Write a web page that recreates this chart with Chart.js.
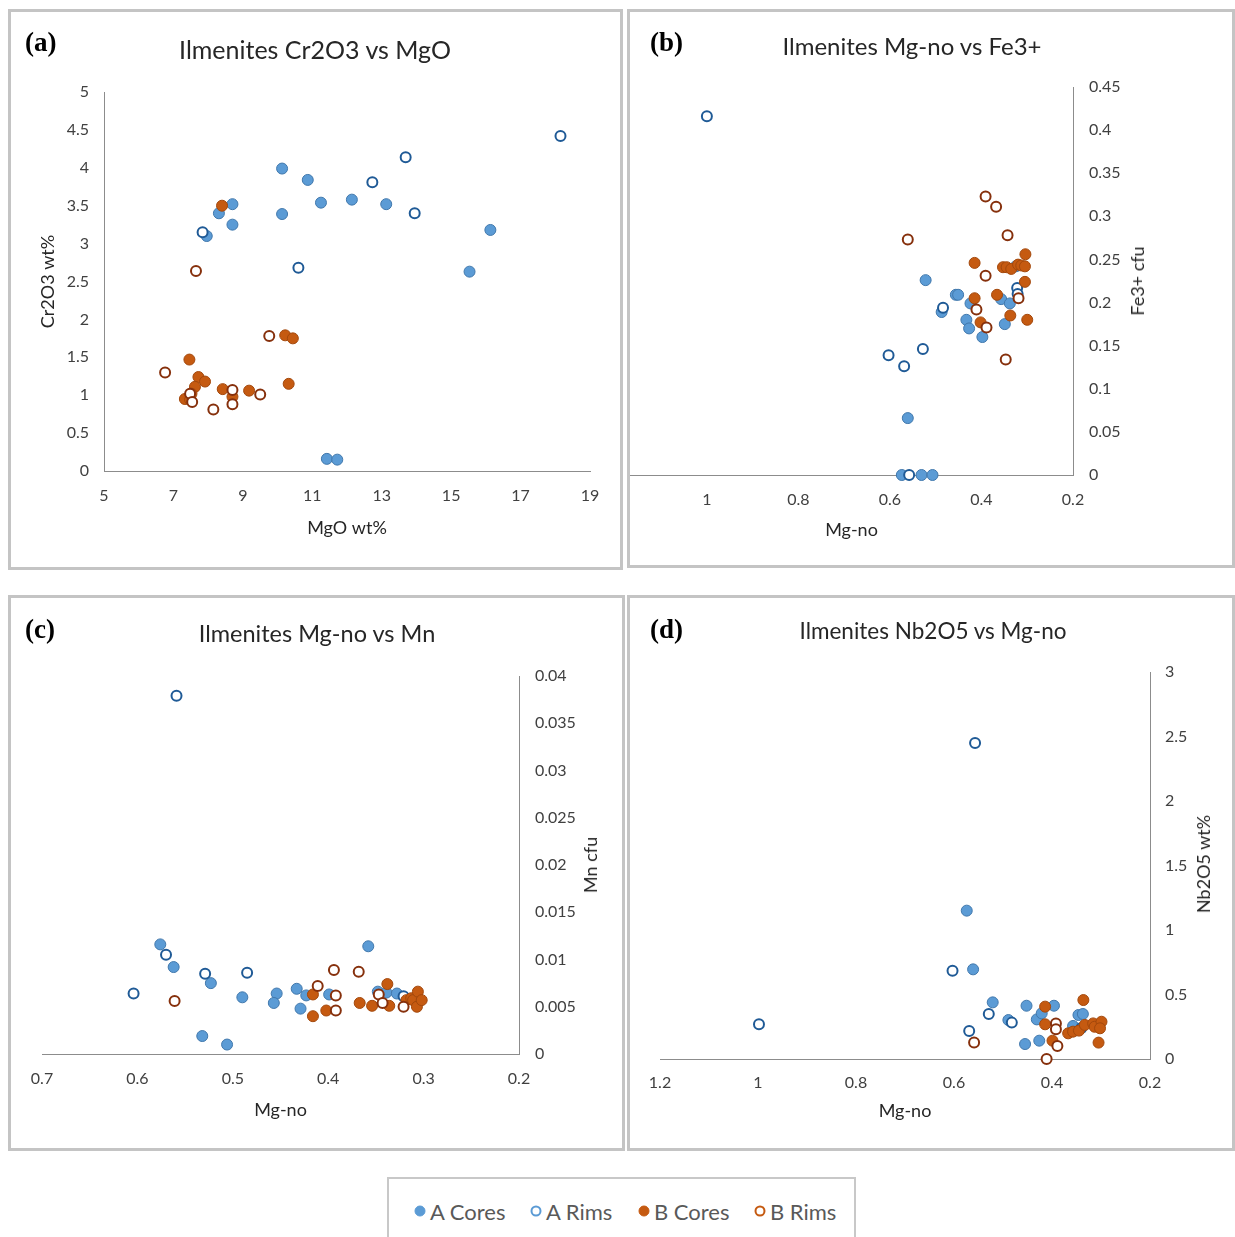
<!DOCTYPE html>
<html>
<head>
<meta charset="utf-8">
<script src="https://cdn.jsdelivr.net/npm/chart.js@4.4.1/dist/chart.umd.min.js"></script>
<style>
  body { margin: 0; background: #fff; }
  #page { position: relative; width: 1235px; height: 1237px; overflow: hidden; font-family: Lato, sans-serif; }
  .box { position: absolute; box-sizing: border-box; border: 3px solid #c4c4c4; }
  .tag { position: absolute; font: bold 27px "Liberation Serif", serif; color: #000; transform: translateY(-50%); }
  .ttl { position: absolute; font-size: 25px; color: #262626; white-space: nowrap; transform: translate(-50%, -50%); }
  .ytl { position: absolute; font-size: 18px; color: #262626; white-space: nowrap; transform: translate(-50%, -50%) rotate(-90deg); }
  canvas { position: absolute; }
  #legend { position: absolute; left: 387px; top: 1177px; width: 469px; height: 80px; box-sizing: border-box; border: 2px solid #c8c8c8; }
  .lg { position: absolute; top: 1211px; transform: translateY(-50%); font-size: 22px; color: #595959; white-space: nowrap; }
  .dot { position: absolute; top: 1211px; width: 11px; height: 11px; border-radius: 50%; box-sizing: border-box; transform: translate(-50%, -50%); }
</style>
</head>
<body>
<div id="page"></div>
<script>
/* ---------- 데이터 ---------- */

const seriesNames = ["A Cores", "A Rims", "B Cores", "B Rims"];

// (a) MgO wt% (x) vs Cr2O3 wt% (y)
const crACores = [[10.13,3.99],[10.87,3.84],[8.70,3.52],[8.31,3.40],[8.70,3.25],[7.96,3.10],[10.13,3.39],[11.25,3.54],[12.14,3.58],[13.13,3.52],[16.13,3.18],[15.53,2.63],[11.42,0.16],[11.72,0.15]];
const crARims = [[18.15,4.42],[13.69,4.14],[12.73,3.81],[13.95,3.40],[7.84,3.15],[10.60,2.68]];
const crBCores = [[8.40,3.50],[7.46,1.47],[7.72,1.24],[7.91,1.18],[7.62,1.11],[7.52,1.02],[7.33,0.95],[7.48,0.94],[8.42,1.08],[8.70,0.98],[9.18,1.06],[10.32,1.15],[10.22,1.79],[10.44,1.75]];
const crBRims = [[7.65,2.64],[6.76,1.30],[9.76,1.78],[8.70,1.07],[8.70,0.88],[8.15,0.81],[9.50,1.01],[7.48,1.02],[7.54,0.91]];

// (b) Mg-no (x) vs Fe3+ cfu (y)
const feACores = [[0.522,0.226],[0.456,0.209],[0.451,0.209],[0.487,0.189],[0.424,0.199],[0.433,0.180],[0.427,0.170],[0.398,0.160],[0.357,0.204],[0.338,0.199],[0.349,0.175],[0.325,0.242],[0.561,0.066],[0.574,0],[0.531,0],[0.507,0]];
const feARims = [[1.0,0.416],[0.603,0.139],[0.569,0.126],[0.528,0.146],[0.484,0.194],[0.558,0],[0.322,0.217],[0.321,0.210]];
const feBCores = [[0.415,0.246],[0.415,0.205],[0.402,0.177],[0.366,0.209],[0.353,0.241],[0.345,0.241],[0.335,0.239],[0.320,0.244],[0.313,0.243],[0.305,0.242],[0.304,0.256],[0.305,0.224],[0.337,0.185],[0.300,0.180]];
const feBRims = [[0.561,0.273],[0.391,0.323],[0.368,0.311],[0.343,0.278],[0.391,0.231],[0.411,0.192],[0.389,0.171],[0.319,0.205],[0.347,0.134]];

// (c) Mg-no (x) vs Mn cfu (y)
const mnACores = [[0.576,0.0116],[0.562,0.0092],[0.523,0.0075],[0.532,0.0019],[0.506,0.0010],[0.490,0.0060],[0.454,0.0064],[0.457,0.0054],[0.433,0.0069],[0.423,0.0062],[0.429,0.0048],[0.399,0.0063],[0.358,0.0114],[0.348,0.0066],[0.339,0.0065],[0.328,0.0064]];
const mnARims = [[0.559,0.0379],[0.570,0.0105],[0.604,0.0064],[0.529,0.0085],[0.485,0.0086],[0.321,0.0061]];
const mnBCores = [[0.416,0.0063],[0.416,0.0040],[0.402,0.0046],[0.367,0.0054],[0.354,0.0051],[0.338,0.0074],[0.336,0.0051],[0.318,0.0057],[0.313,0.0059],[0.311,0.0057],[0.306,0.0066],[0.307,0.0050],[0.302,0.0057]];
const mnBRims = [[0.561,0.0056],[0.411,0.0072],[0.394,0.0089],[0.368,0.0087],[0.392,0.0062],[0.392,0.0046],[0.347,0.0063],[0.343,0.0054],[0.321,0.0050]];

// (d) Mg-no (x) vs Nb2O5 wt% (y)
const nbACores = [[0.574,1.15],[0.561,0.695],[0.521,0.439],[0.489,0.302],[0.452,0.413],[0.431,0.307],[0.421,0.354],[0.396,0.413],[0.455,0.116],[0.426,0.142],[0.346,0.341],[0.337,0.349],[0.357,0.256]];
const nbARims = [[0.998,0.27],[0.557,2.45],[0.603,0.685],[0.529,0.349],[0.569,0.217],[0.482,0.282],[0.340,0.24]];
const nbBCores = [[0.414,0.406],[0.414,0.269],[0.399,0.142],[0.336,0.457],[0.367,0.199],[0.357,0.212],[0.345,0.22],[0.333,0.264],[0.316,0.276],[0.313,0.25],[0.299,0.289],[0.302,0.238],[0.305,0.127]];
const nbBRims = [[0.559,0.127],[0.392,0.276],[0.392,0.230],[0.389,0.101],[0.411,0]];

/* ---------- 스타일 ---------- */

const marks = [
  { bg: "#5B9BD5", bd: "#4178AC", r: 5.5, w: 1 },   // A Cores
  { bg: "#ffffff", bd: "#1F5A96", r: 5, w: 2 },     // A Rims
  { bg: "#C55A11", bd: "#A3480C", r: 5.5, w: 1 },   // B Cores
  { bg: "#ffffff", bd: "#86300C", r: 5, w: 2 },     // B Rims
];
const tickFont = { family: "Lato", size: 16 };
const titleFont = { family: "Lato", size: 18 };

const fmt = (v) => String(+v.toFixed(6));

function sets(groups) {
  return groups.map((pts, i) => ({
    label: seriesNames[i],
    data: pts.map((p) => ({ x: p[0], y: p[1] })),
    pointRadius: marks[i].r,
    pointHoverRadius: marks[i].r,
    backgroundColor: marks[i].bg,
    borderColor: marks[i].bd,
    borderWidth: marks[i].w,
    showLine: false,
    clip: false,
    order: 4 - i,
  }));
}

function axis(o) {
  return {
    type: "linear",
    position: o.pos,
    min: o.min,
    max: o.max,
    reverse: !!o.rev,
    grid: { display: false, drawTicks: false },
    border: { display: true, color: "#8c8c8c", width: 1 },
    ticks: { stepSize: o.step, padding: o.pad, color: "#404040", font: tickFont, callback: fmt },
    title: o.title
      ? { display: true, text: o.title, color: "#262626", font: titleFont, padding: o.tpad }
      : { display: false },
    afterBuildTicks: (s) => {
      s.ticks = s.ticks.filter((t) => {
        const k = (t.value - o.base) / o.step;
        return Math.abs(k - Math.round(k)) < 1e-6;
      });
    },
    afterFit: (s) => {
      if (o.pos === "bottom") s.height = o.size;
      else s.width = o.size;
      s.paddingLeft = s.paddingRight = s.paddingTop = s.paddingBottom = 0;
    },
  };
}

/* ---------- 패널 ---------- */

const page = document.getElementById("page");

function addEl(cls, text, css) {
  const el = document.createElement("div");
  el.className = cls;
  if (text) el.textContent = text;
  Object.assign(el.style, css);
  page.appendChild(el);
  return el;
}

function panel(p) {
  addEl("box", "", { left: p.box[0] + "px", top: p.box[1] + "px", width: p.box[2] + "px", height: p.box[3] + "px" });
  const cv = document.createElement("canvas");
  cv.width = p.cv[2];
  cv.height = p.cv[3];
  cv.style.left = p.cv[0] + "px";
  cv.style.top = p.cv[1] + "px";
  page.appendChild(cv);
  addEl("tag", p.tag, { left: p.tagAt[0] + "px", top: p.tagAt[1] + "px" });
  addEl("ttl", p.title, { left: p.titleAt[0] + "px", top: p.titleAt[1] + "px", fontSize: p.titleSize + "px" });
  if (p.yTitleAt) addEl("ytl", p.yTitle, { left: p.yTitleAt[0] + "px", top: p.yTitleAt[1] + "px" });
  return new Chart(cv, {
    type: "scatter",
    data: { datasets: sets(p.groups) },
    options: {
      responsive: false,
      animation: false,
      events: [],
      layout: { padding: p.padding, autoPadding: false },
      plugins: { legend: { display: false }, tooltip: { enabled: false } },
      scales: { x: axis(p.x), y: axis(p.y) },
    },
  });
}

// (a)
panel({
  box: [8, 9, 615, 561], cv: [9, 10, 612, 559],
  tag: "(a)", tagAt: [25, 42],
  title: "Ilmenites Cr2O3 vs MgO", titleAt: [315, 49], titleSize: 25,
  groups: [crACores, crARims, crBCores, crBRims],
  padding: { left: 20, right: 31, top: 82, bottom: 28 },
  x: { pos: "bottom", min: 5, max: 19, step: 2, base: 5, pad: 15, size: 70, title: "MgO wt%", tpad: { top: 0, bottom: 2 } },
  y: { pos: "left", min: 0, max: 5, step: 0.5, base: 0, pad: 15, size: 75, title: "Cr2O3 wt%", tpad: { top: 8, bottom: 0 } },
});

// (b)
panel({
  box: [627, 9, 608, 559], cv: [628, 10, 606, 557],
  tag: "(b)", tagAt: [650, 42],
  title: "Ilmenites Mg-no vs Fe3+", titleAt: [912, 45], titleSize: 24,
  yTitle: "Fe3+ cfu", yTitleAt: [1137, 281],
  groups: [feACores, feARims, feBCores, feBRims],
  padding: { left: 2, right: 101, top: 77, bottom: 22 },
  x: { pos: "bottom", min: 0.2, max: 1.168, rev: true, step: 0.2, base: 0.2, pad: 15, size: 70, title: "Mg-no", tpad: { top: 0, bottom: 4 } },
  y: { pos: "right", min: 0, max: 0.45, step: 0.05, base: 0, pad: 16, size: 60 },
});

// (c)
panel({
  box: [8, 595, 617, 556], cv: [9, 596, 614, 554],
  tag: "(c)", tagAt: [25, 629],
  title: "Ilmenites Mg-no vs Mn", titleAt: [317, 633], titleSize: 23.5,
  yTitle: "Mn cfu", yTitleAt: [590, 865],
  groups: [mnACores, mnARims, mnBCores, mnBRims],
  padding: { left: 33, right: 44, top: 80, bottom: 26 },
  x: { pos: "bottom", min: 0.2, max: 0.7, rev: true, step: 0.1, base: 0.2, pad: 15, size: 70, title: "Mg-no", tpad: { top: 0, bottom: 3 } },
  y: { pos: "right", min: 0, max: 0.04, step: 0.005, base: 0, pad: 16, size: 60 },
});

// (d)
panel({
  box: [627, 595, 608, 556], cv: [628, 596, 606, 554],
  tag: "(d)", tagAt: [650, 629],
  title: "Ilmenites Nb2O5 vs Mg-no", titleAt: [933, 630], titleSize: 22.5,
  yTitle: "Nb2O5 wt%", yTitleAt: [1203, 864],
  groups: [nbACores, nbARims, nbBCores, nbBRims],
  padding: { left: 32, right: 24, top: 76, bottom: 21 },
  x: { pos: "bottom", min: 0.2, max: 1.2, rev: true, step: 0.2, base: 0.2, pad: 14, size: 70, title: "Mg-no", tpad: { top: 0, bottom: 7 } },
  y: { pos: "right", min: 0, max: 3, step: 0.5, base: 0, pad: 15, size: 60 },
});

/* ---------- 범례 ---------- */

addEl("", "", {}).id = "legend";
const legendDots = [420, 536, 644, 760];
const legendRing = ["#5B9BD5", "#5B9BD5", "#C55A11", "#C55A11"];
seriesNames.forEach((name, i) => {
  const open = i % 2 === 1;
  addEl("dot", "", {
    left: legendDots[i] + "px",
    background: open ? "#fff" : legendRing[i],
    border: (open ? 2 : 1) + "px solid " + legendRing[i],
  });
  addEl("lg", name, { left: legendDots[i] + 10 + "px" });
});
</script>
</body>
</html>
